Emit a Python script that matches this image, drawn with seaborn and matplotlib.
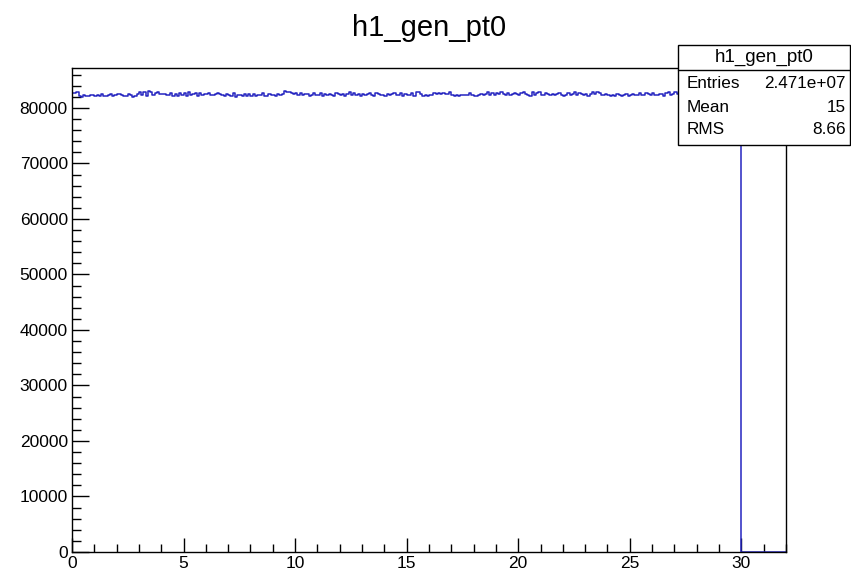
import numpy as np
import pandas as pd
import matplotlib
matplotlib.use("Agg")
import matplotlib.pyplot as plt
from matplotlib.ticker import MultipleLocator
import seaborn as sns

title = "h1_gen_pt0"
stats_labels = ["Entries", "Mean", "RMS"]
stats_values = ["2.471e+07", "15", "8.66"]

bin_width = 0.1
x_min, x_max = 0.0, 32.0
counts = [
    82750, 82700, 82800, 82200, 82050, 82300, 82100, 82200, 82400, 82300,
    82200, 82300, 82100, 82450, 82200, 82100, 82300, 82450, 82200, 82300,
    82500, 82600, 82300, 82200, 82100, 82450, 82300, 82000, 82200, 82500,
    82900, 82400, 82800, 82200, 83000, 82900, 82300, 82700, 82950, 82500,
    82600, 82500, 82400, 82300, 82750, 82200, 82500, 82100, 82650, 82400,
    82750, 82200, 82800, 82300, 82600, 82650, 82100, 82700, 82400, 82500,
    82600, 82650, 82400, 82300, 82500, 82700, 82600, 82400, 82200, 82500,
    82300, 82200, 82650, 82050, 82400, 82300, 82100, 82600, 82200, 82500,
    82200, 82600, 82100, 82400, 82300, 82650, 82100, 82200, 82500, 82300,
    82400, 82200, 82600, 82300, 82500, 83050, 82900, 82950, 82750, 82600,
    82650, 82400, 82700, 82300, 82600, 82500, 82200, 82400, 82650, 82300,
    82400, 82650, 82200, 82500, 82300, 82600, 82400, 82200, 82700, 82500,
    82300, 82500, 82200, 82600, 82800, 82400, 82650, 82300, 82500, 82200,
    82600, 82300, 82500, 82750, 82400, 82200, 82650, 82500, 82300, 82400,
    82200, 82500, 82300, 82600, 82750, 82400, 82300, 82650, 82200, 82500,
    82400, 82300, 82650, 82200, 82900, 82800, 82500, 82200, 82300, 82100,
    82400, 82300, 82650, 82600, 82700, 82550, 82750, 82450, 82600, 82800,
    82400, 82200, 82250, 82150, 82300, 82350, 82250, 82300, 82750, 82400,
    82200, 82100, 82300, 82600, 82300, 82500, 82800, 82400, 82650, 82300,
    82750, 82600, 82800, 82500, 82400, 82650, 82300, 82500, 82750, 82600,
    82300, 82750, 82950, 82500, 82400, 82200, 82800, 82400, 82650, 82900,
    82400, 82300, 82750, 82500, 82400, 82600, 82300, 82500, 82650, 82400,
    82200, 82400, 82650, 82300, 82600, 82800, 82400, 82650, 82500, 82300,
    82600, 82200, 82500, 82900, 82600, 82950, 82650, 82400, 82300, 82600,
    82300, 82100, 82400, 82200, 82500, 82300, 82200, 82400, 82600, 82200,
    82300, 82500, 82250, 82350, 82650, 82300, 82400, 82750, 82500, 82300,
    82750, 82400, 82300, 82600, 82500, 82200, 82650, 82800, 82400, 82600,
    82900, 82500, 82650, 82300, 82600, 82800, 82400, 82500, 82300, 82200,
    82500, 82300, 82200, 82400, 82600, 82200, 82300, 82500, 82750, 82300,
    82650, 82400, 82800, 82500, 82300, 82750, 82400, 82600, 82500, 82650,
    0, 0, 0, 0, 0, 0, 0, 0, 0, 0,
    0, 0, 0, 0, 0, 0, 0, 0, 0, 0,
]

edges = [round(e, 6) for e in np.arange(x_min, x_max + bin_width / 2, bin_width)]
centers = [(a + b) / 2 for a, b in zip(edges[:-1], edges[1:])]
df = pd.DataFrame({"x": centers, "w": counts})

sns.set_style("white")
plt.rcParams["font.family"] = ["Liberation Sans", "DejaVu Sans"]
plt.rcParams["text.color"] = "black"
plt.rcParams["xtick.color"] = "black"
plt.rcParams["ytick.color"] = "black"
plt.rcParams["xtick.labelcolor"] = "black"
plt.rcParams["ytick.labelcolor"] = "black"

fig = plt.figure(figsize=(8.51, 5.75), dpi=100)
ax = fig.add_axes([0.0846, 0.04, 0.839, 0.8417])

sns.histplot(data=df, x="x", weights="w", bins=edges, element="step",
             fill=False, color="#2424c0", linewidth=1.1, ax=ax)

ax.set_xlim(0, 32)
ax.set_ylim(0, 87200)
ax.set_xlabel("")
ax.set_ylabel("")

ax.xaxis.set_major_locator(MultipleLocator(5))
ax.xaxis.set_minor_locator(MultipleLocator(1))
ax.yaxis.set_major_locator(MultipleLocator(10000))
ax.yaxis.set_minor_locator(MultipleLocator(2000))
ax.tick_params(axis="both", which="both", bottom=True, left=True,
               top=False, right=False, direction="in", width=1,
               color="black")
ax.tick_params(axis="x", which="major", length=10, labelsize=12.5,
               labelcolor="black", pad=3)
ax.tick_params(axis="x", which="minor", length=5.8)
ax.tick_params(axis="y", which="major", length=12.2, labelsize=12.5,
               labelcolor="black", pad=3)
ax.tick_params(axis="y", which="minor", length=6.5)
for s in ax.spines.values():
    s.set_visible(True)
    s.set_color("black")
    s.set_linewidth(1.0)

fig.text(0.5045, 0.952, title, ha="center", va="center", fontsize=21,
         color="black")

# Stats box
bx0, bx1 = 678 / 851, 850 / 851
by_top, by_bot = 1 - 45 / 575, 1 - 145 / 575
by_mid = 1 - 70 / 575
box = plt.Rectangle((bx0, by_bot), bx1 - bx0, by_top - by_bot,
                    transform=fig.transFigure, facecolor="white",
                    edgecolor="black", linewidth=1.0, zorder=10)
fig.add_artist(box)
fig.add_artist(plt.Line2D([bx0, bx1], [by_mid, by_mid],
                          transform=fig.transFigure, color="black",
                          linewidth=1.0, zorder=11))
fig.text((bx0 + bx1) / 2, 1 - 57.5 / 575, title, ha="center", va="center",
         fontsize=13.5, zorder=12, color="black")
row_y = [84, 107, 130]
for lab, val, yy in zip(stats_labels, stats_values, row_y):
    fig.text(687 / 851, 1 - yy / 575, lab, ha="left", va="center",
             fontsize=12.3, zorder=12, color="black")
    fig.text(846 / 851, 1 - yy / 575, val, ha="right", va="center",
             fontsize=12.3, zorder=12, color="black")

fig.savefig("out.png", dpi=100)
